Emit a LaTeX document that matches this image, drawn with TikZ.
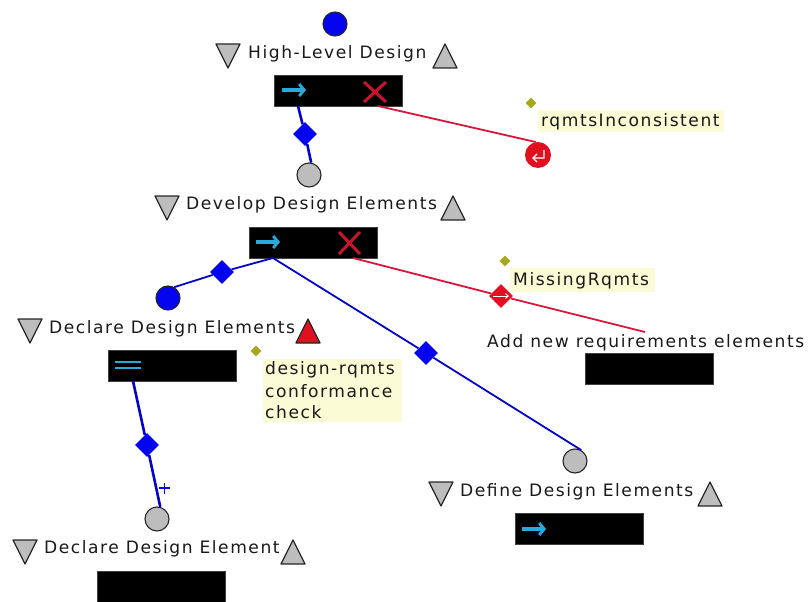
\documentclass[tikz,border=0pt]{standalone}
\usepackage{fontspec}
\usetikzlibrary{shapes.geometric,arrows.meta}
\newfontfamily\lblfont[LetterSpace=9]{DejaVu Sans}
\definecolor{cy}{HTML}{2AA9DC}
\definecolor{rd}{HTML}{E01020}
\definecolor{xrd}{HTML}{C8142C}
\definecolor{lnrd}{HTML}{D8163A}
\definecolor{bl}{HTML}{0404EE}
\definecolor{gy}{HTML}{BDBDBD}
\definecolor{ol}{HTML}{A8A820}
\definecolor{nt}{HTML}{FBFBD6}
\tikzset{
 x=1pt,y=-1pt,
 lbl/.style={font=\lblfont\fontsize{17.1}{20}\selectfont,text=black!90,anchor=west,inner sep=0pt},
 blackbox/.style={fill=black,draw=black!75,line width=.4pt,minimum width=128pt,minimum height=31pt,inner sep=0pt,anchor=north west},
 port/.style={circle,draw=black!85,line width=1.1pt,minimum size=24pt,inner sep=0pt},
 blueport/.style={port,fill=bl},
 grayport/.style={port,fill=gy},
 redport/.style={circle,fill=rd,minimum size=26pt,inner sep=0pt},
 dia/.style={diamond,aspect=1,minimum size=24pt,inner sep=0pt},
 bluedia/.style={dia,fill=bl},
 reddia/.style={dia,fill=rd},
 oldia/.style={diamond,aspect=1,fill=ol,minimum size=11pt,inner sep=0pt},
 note/.style={fill=nt,inner sep=0pt,anchor=north west},
 blueln/.style={draw=bl!85!black,line width=2.6pt},
 blueln2/.style={draw=bl!85!black,line width=1.8pt},
 redln/.style={draw=lnrd,line width=1.8pt},
 tri/.style={fill=gy,draw=black!85,line width=1.2pt,line join=round},
 icon/.style={draw=cy,line width=3.4pt},
 xmark/.style={draw=xrd,line width=3pt}
}
\newcommand{\tdown}[2]{\path[tri] (#1,#2) -- ++(24,0) -- ++(-12,24) -- cycle;}
\newcommand{\tup}[3][gy]{\path[tri,fill=#1] (#2,#3+24) -- ++(24,0) -- ++(-12,-24) -- cycle;}
\begin{document}
\begin{tikzpicture}
\useasboundingbox (0,0) rectangle (809,602);
% note backgrounds
\node[note,minimum width=186pt,minimum height=22pt] (n1bg) at (538,110) {};
\node[note,minimum width=145pt,minimum height=24pt] (n2bg) at (510,268) {};
\node[note,minimum width=139pt,minimum height=63pt] (n3bg) at (263,359) {};
% boxes
\node[blackbox] (b1) at (274,75) {};
\node[blackbox] (b2) at (249,227) {};
\node[blackbox] (b3) at (108,350) {};
\node[blackbox] (b4) at (585,353) {};
\node[blackbox] (b5) at (515,513) {};
\node[blackbox] (b6) at (97,571) {};
% connector ends
\coordinate (o1) at (298,106);
\coordinate (x1) at (378,106);
\coordinate (o2) at (273,258);
\coordinate (x2) at (353,258);
\coordinate (o3) at (133,381);
\coordinate (e4) at (645,332);
% ports and diamonds
\node[blueport] (p1) at (335,24) {};
\node[grayport] (p2) at (309,175) {};
\node[redport] (p3) at (538,155) {};
\node[blueport] (p4) at (168,298) {};
\node[grayport] (p5) at (575,461) {};
\node[grayport] (p6) at (157,519) {};
\node[bluedia] (d1) at (305,134) {};
\node[bluedia] (d2) at (222,272) {};
\node[bluedia] (d3) at (426,353) {};
\node[bluedia] (d4) at (147,445) {};
\node[reddia] (d5) at (501,296) {};
% connectors
\draw[blueln] (o1) -- (d1);
\draw[blueln] (d1) -- (p2.80);
\draw[blueln2] (o2) -- (d2);
\draw[blueln2] (d2) -- (p4.60);
\draw[blueln2] (o2) -- (d3);
\draw[blueln2] (d3) -- (p5.60);
\draw[blueln] (o3) -- (d4);
\draw[blueln] (d4) -- (p6.75);
\draw[redln] (x1) -- (p3.100);
\draw[redln] (x2) -- (d5);
\draw[redln] (d5) -- (e4);
% icons
\draw[icon,-{Straight Barb[length=5pt,width=12pt,line width=2.8pt]}] (282,90) -- (306,90);
\draw[icon,-{Straight Barb[length=5pt,width=12pt,line width=2.8pt]}] (256,242) -- (280,242);
\draw[icon,-{Straight Barb[length=5pt,width=12pt,line width=2.8pt]}] (522,529) -- (546,529);
\draw[draw=cy,line width=2.6pt] (115,362) -- (141,362) (115,368) -- (141,368);
\draw[xmark] (364,82) -- (386,102) (386,82) -- (364,102);
\draw[xmark] (339,232) -- (360,254) (360,232) -- (339,254);
\draw[white,line width=1.3pt] (544,150) -- (544,158) -- (533,158) (537,154) -- (533,158) -- (537,162);
\draw[white,line width=.9pt,-{Straight Barb[length=3pt,width=5pt]}] (493,296) -- (509,296);
\draw[bl,line width=1.8pt] (159,488) -- (170,488) (164.5,482.5) -- (164.5,493.5);
% triangles
\tdown{216}{44} \tup{433}{44}
\tdown{155}{196} \tup{441}{196}
\tdown{18}{319} \tup[rd]{296}{319}
\tdown{13}{540} \tup{281}{540}
\tdown{429}{482} \tup{698}{482}
% labels
\node[lbl] (t1) at (248,54) {High-Level Design};
\node[lbl] (t2) at (186,205) {Develop Design Elements};
\node[lbl] (t3) at (49,329) {Declare Design Elements};
\node[lbl] (t4) at (44,549) {Declare Design Element};
\node[lbl] (t5) at (460,492) {Define Design Elements};
\node[lbl] (t6) at (487,343) {Add new requirements elements};
\node[lbl] (t7) at (541,122) {rqmtsInconsistent};
\node[lbl] (t8) at (513,281) {MissingRqmts};
\node[lbl] (t9) at (265,370) {design-rqmts};
\node[lbl] (t10) at (265,391) {conformance};
\node[lbl] (t11) at (265,412) {check};
% note markers
\node[oldia] (m1) at (531,103) {};
\node[oldia] (m2) at (505,261) {};
\node[oldia] (m3) at (256,351) {};
\end{tikzpicture}
\end{document}
